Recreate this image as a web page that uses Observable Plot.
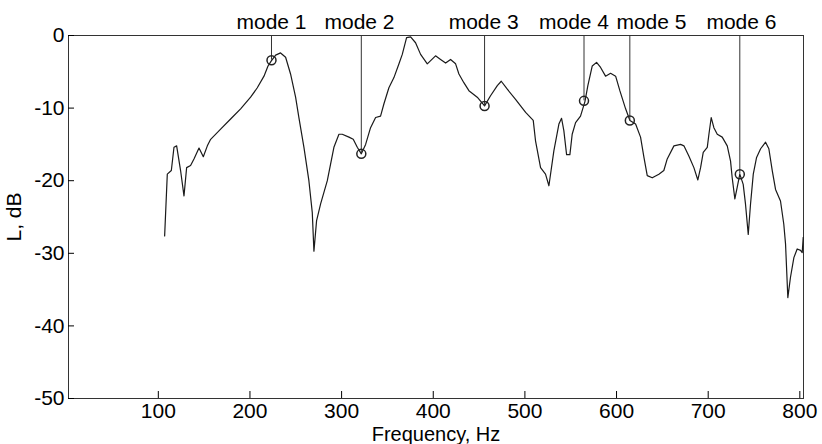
<!DOCTYPE html>
<html>
<head>
<meta charset="utf-8">
<script src="https://cdn.jsdelivr.net/npm/d3@7"></script>
<script src="https://cdn.jsdelivr.net/npm/@observablehq/plot@0.6"></script>
<style>
  html, body { margin: 0; padding: 0; background: #fff; }
</style>
</head>
<body>
<div id="chart"></div>
<script>
const freq = [106.9,109.8,114.2,117.1,120,124.3,128,130.9,135.2,138.9,144.4,149.1,153.5,157.1,168,178.9,189.8,200.7,208,215.3,219.7,223.3,228,233.4,238.9,244.3,249.8,253.4,258.9,264.3,268,269.8,272.7,277.1,284.4,291.6,297.1,300.7,308,312.7,317.1,321.5,326.2,331.6,337.1,342.5,346.2,351.6,357.1,362.6,366.2,370.9,375.3,380.7,386.2,393.5,402.5,408,413.5,418.9,424.4,428,433.4,438.9,448,456,462.5,469.9,474.2,480.8,489.8,495.3,500.8,509.1,511.6,517.1,522.5,526.2,531.6,537.1,540,542.5,545.5,549.1,551.6,555.3,560.7,565.5,568.7,573.5,578.2,582.6,588,593.5,599,603.6,609.9,614.6,620.8,626.2,629.9,633.5,639,646.2,651.6,655.3,662.6,669.9,673.5,678.9,684.4,688.7,691.7,694.6,699,700.8,703.3,706.2,709.9,715.3,720.8,724.4,726.2,729.1,731.7,734.5,738.2,740.7,743.7,746.2,749.2,752.8,757.2,762.6,766.2,769.9,773.5,778.9,782.5,784.4,786.9,789.8,793.5,797.1,800.8,802.6,803.7];
const level = [-27.6,-19.1,-18.6,-15.4,-15.2,-18.6,-22.1,-18.2,-17.9,-17.0,-15.5,-16.7,-15.2,-14.3,-12.9,-11.5,-10.1,-8.5,-7.2,-5.6,-4.2,-3.5,-2.7,-2.4,-3.0,-5.3,-8.5,-11.3,-15.4,-20.0,-24.4,-29.7,-25.5,-23.2,-20.0,-15.4,-13.6,-13.6,-14.0,-14.3,-15.4,-16.3,-15.0,-12.7,-11.3,-11.1,-9.4,-7.2,-5.8,-3.9,-2.6,-0.3,-0.2,-1.0,-2.6,-3.9,-2.8,-3.3,-3.8,-3.3,-3.9,-5.3,-6.5,-7.6,-8.5,-9.7,-8.3,-6.9,-6.3,-7.4,-8.8,-9.7,-10.6,-11.7,-14.5,-18.2,-19.1,-20.7,-15.9,-12.2,-11.4,-13.1,-16.4,-16.4,-13.6,-12.0,-11.1,-9.1,-6.9,-4.2,-3.7,-4.4,-5.6,-5.2,-5.6,-7.6,-10.1,-11.7,-12.2,-14.0,-16.8,-19.3,-19.6,-19.1,-18.6,-17.0,-15.2,-15.0,-15.2,-16.6,-18.2,-19.9,-18.2,-16.1,-15.4,-13.6,-11.3,-12.7,-13.6,-14.0,-15.2,-17.3,-19.6,-22.5,-20.9,-19.1,-20.5,-23.2,-27.4,-23.2,-19.1,-16.8,-15.6,-14.7,-15.6,-18.6,-21.2,-22.8,-26.0,-28.7,-36.1,-33.3,-30.6,-29.4,-29.6,-29.9,-27.8];

const modeNames = ["mode 1","mode 2","mode 3","mode 4","mode 5","mode 6"];
const modeFreq = [223.5, 321.5, 456, 564.5, 614.5, 734.5];
const modeLevel = [-3.4, -16.3, -9.7, -9.0, -11.7, -19.1];
const modeLabelFreq = [223.5, 319.5, 455, 553.6, 638.1, 736.3];

const xTicks = [100, 200, 300, 400, 500, 600, 700, 800];
const yTicks = [0, -10, -20, -30, -40, -50];

const curve = freq.map((f, i) => ({f, L: level[i]}));
const modes = modeNames.map((name, i) => ({name, f: modeFreq[i], L: modeLevel[i], lf: modeLabelFreq[i]}));

const chart = Plot.plot({
  width: 822,
  height: 444,
  marginLeft: 68,
  marginRight: 19,
  marginTop: 35,
  marginBottom: 46,
  style: {fontFamily: "'Liberation Sans', Arial, sans-serif", fontSize: "21px", color: "#000", background: "#fff"},
  x: {domain: [2, 804]},
  y: {domain: [-50, 0]},
  marks: [
    Plot.frame({stroke: "#333"}),
    Plot.axisX(xTicks, {tickSize: -7, tickPadding: 12, tickFormat: d => String(d), label: null}),
    Plot.axisX({ticks: [], tickSize: 0, label: "Frequency, Hz", labelAnchor: "center", labelArrow: "none", labelOffset: 42, fontSize: 20}),
    Plot.axisY(yTicks, {tickSize: -6, tickPadding: 10, tickFormat: d => String(d), label: "L, dB", labelAnchor: "center", labelArrow: "none", labelOffset: 62}),
    Plot.line(curve, {x: "f", y: "L", stroke: "#1a1a1a", strokeWidth: 1.2}),
    Plot.ruleX(modes, {x: "f", y1: 0, y2: "L", stroke: "#333"}),
    Plot.dot(modes, {x: "f", y: "L", r: 4.5, stroke: "#222", fill: "none"}),
    Plot.text(modes, {x: "lf", y: 0, text: "name", dy: -7, lineAnchor: "bottom", fontSize: 21})
  ]
});
document.getElementById("chart").appendChild(chart);
</script>
</body>
</html>
